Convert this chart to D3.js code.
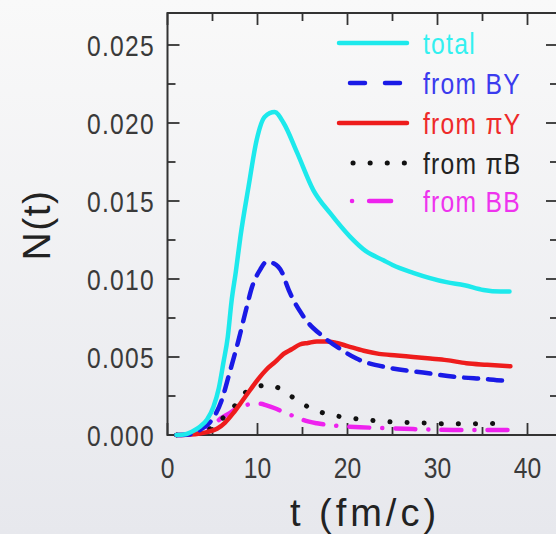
<!DOCTYPE html>
<html><head><meta charset="utf-8">
<script src="https://cdn.jsdelivr.net/npm/d3@7"></script>
<style>html,body{margin:0;padding:0;overflow:hidden;background:#f0f1f3}</style>
</head><body><svg id="c" width="556" height="534"></svg>
<script>
const tTotal = [1,2,3,3.6,4.4,5.1,5.7,6.2,6.7,7.1,7.6,8.1,9,9.9,10.8,11.9,12.9,14.4,16.2,18.1,20.3,22,24,25,27.3,31,33,35.1,37,38];
const vTotal = [0,0.00005,0.0003,0.00053,0.001,0.0018,0.003,0.0046,0.0063,0.0085,0.0105,0.0127,0.0159,0.0189,0.0204,0.0207,0.0200,0.0181,0.0157,0.0142,0.0127,0.0118,0.0112,0.0109,0.0104,0.0098,0.0096,0.0093,0.0092,0.0092];
const tBY = [1,2,2.9,3.8,4.7,5.4,6,6.9,7.9,8.8,9.4,10.3,11,11.8,12.9,13.2,15.1,17.3,19.5,21,24.7,28.4,32.5,35,37.3,38];
const vBY = [0,0.00002,0.0001,0.0004,0.0008,0.0014,0.0022,0.004,0.0061,0.0082,0.0095,0.0106,0.0111,0.0110,0.0102,0.0097,0.0076,0.0063,0.0054,0.0049,0.0043,0.0040,0.0037,0.0036,0.0035,0.0035];
const tPiY = [1,2.5,3.6,4.5,5.5,6.4,7.3,8.2,9.2,10.1,11,12,12.9,13.8,14.7,15.6,16.6,17.7,18.8,20,21.8,23.5,25.5,27.3,29.2,31,33.2,35.5,38.1];
const vPiY = [0,0.00003,0.0001,0.0002,0.0004,0.0008,0.0014,0.0021,0.0029,0.0036,0.0042,0.0047,0.0052,0.0055,0.0058,0.0059,0.0060,0.0060,0.0059,0.0057,0.0054,0.0052,0.0051,0.0050,0.0049,0.0048,0.0046,0.0045,0.0044];
const tPiB = [1,2,3,4,5,6,7.3,8.6,10,11,12,13.7,15.3,17.1,19,20.8,22.7,24.5,26.6,28.4,30.3,32,34,36,37.9];
const vPiB = [0,0.00002,0.0001,0.0002,0.0005,0.001,0.00175,0.0027,0.0031,0.0032,0.0031,0.0025,0.0019,0.00145,0.0012,0.00105,0.00094,0.00085,0.0008,0.00077,0.00073,0.00072,0.00072,0.00074,0.00075];
const tBB = [1,2.5,3.5,4.4,5.2,6,6.9,7.7,8.6,9.5,10.3,11,12,13.1,14.1,15.1,16.6,18.6,21.4,24.4,27.3,31.8,35.8,37.9];
const vBB = [0,0.00005,0.0002,0.0004,0.0007,0.0011,0.0014,0.0017,0.0019,0.0020,0.0020,0.0019,0.0017,0.0014,0.0012,0.00096,0.00075,0.0006,0.0005,0.00043,0.00038,0.00032,0.00032,0.00032];
const xTicks = [0,10,20,30,40];
const yTicks = [0,0.005,0.010,0.015,0.020,0.025];
const legendLabels = ["total","from BY","from \u03c0Y","from \u03c0B","from BB"];

const svg = d3.select("#c");
const defs = svg.append("defs");
const gr = defs.append("linearGradient").attr("id","bg").attr("x1",0).attr("y1",0).attr("x2",0).attr("y2",1);
gr.append("stop").attr("offset","0%").attr("stop-color","#f9f9f9");
gr.append("stop").attr("offset","100%").attr("stop-color","#e7e8ed");
svg.append("rect").attr("width",556).attr("height",534).attr("fill","url(#bg)");

const L = 167.5, R = 558, T = 13, B = 435;
const x = d3.scaleLinear().domain([0,40]).range([L, 527.5]);
const y = d3.scaleLinear().domain([0,0.025]).range([B, 45]);

const font = "'Liberation Sans',Arimo,Arial,sans-serif";
const axCol = "#333";

function txt(parent, px, py, s, opts) {
  const g = parent.append("g").attr("transform", `translate(${px},${py}) scale(${opts.sx||0.85},1)`);
  g.append("text").attr("x",0).attr("y",0).attr("text-anchor",opts.anchor||"start")
    .attr("font-family",font).attr("font-size",opts.size||29).attr("fill",opts.fill||"#3a3a3a")
    .attr("letter-spacing",opts.ls==null?1.5:opts.ls).text(s);
  return g;
}

const frame = svg.append("g");
frame.append("rect").attr("x",L).attr("y",T).attr("width",R-L).attr("height",B-T)
  .attr("fill","none").attr("stroke",axCol).attr("stroke-width",2);

d3.range(0, 45, 5).forEach(v => {
  const len = v % 10 === 0 ? 12 : 8;
  frame.append("line").attr("x1",x(v)).attr("x2",x(v)).attr("y1",B).attr("y2",B-len).attr("stroke",axCol).attr("stroke-width",1.8);
  frame.append("line").attr("x1",x(v)).attr("x2",x(v)).attr("y1",T).attr("y2",T+len).attr("stroke",axCol).attr("stroke-width",1.8);
});
d3.range(0, 0.0271, 0.0025).forEach((v,i) => {
  const len = i % 2 === 0 ? 12 : 8;
  frame.append("line").attr("y1",y(v)).attr("y2",y(v)).attr("x1",L).attr("x2",L+len).attr("stroke",axCol).attr("stroke-width",1.8);
  frame.append("line").attr("y1",y(v)).attr("y2",y(v)).attr("x1",R).attr("x2",R-len).attr("stroke",axCol).attr("stroke-width",1.8);
});
xTicks.forEach(d => txt(frame, x(d), 478, d, {anchor:"middle", ls:0}));
yTicks.forEach(d => txt(frame, 155, y(d)+10.5, d3.format(".3f")(d), {anchor:"end"}));

const yt = svg.append("g").attr("transform","translate(50,225) rotate(-90)");
yt.append("text").attr("text-anchor","middle").attr("font-family",font).attr("font-size",39)
  .attr("letter-spacing",1.5).attr("fill","#222").text("N(t)");
svg.append("text").attr("x",365).attr("y",526).attr("text-anchor","middle").attr("letter-spacing",4)
  .attr("font-family",font).attr("font-size",38).attr("fill","#222").text("t (fm/c)");

const line = d3.line().x(d=>x(d[0])).y(d=>y(d[1])).curve(d3.curveMonotoneX);
const series = [
  {t:tTotal, v:vTotal, color:"#1de9ec", text:"#33f0f0", dash:null, w:4.5},
  {t:tBY, v:vBY, color:"#1a1ae6", text:"#3b3bee", dash:"14,10", w:4.5},
  {t:tPiY, v:vPiY, color:"#ee1c1c", text:"#ee2a2a", dash:null, w:4.5},
  {t:tPiB, v:vPiB, color:"#111111", text:"#222", dash:"0.1,17", w:5},
  {t:tBB, v:vBB, color:"#ee22ee", text:"#ee33ee", dash:"20,13,0.1,13", w:4.5}
];
const plot = svg.append("g");
series.slice().reverse().forEach(s => {
  const pts = s.t.map((t,i)=>[t, s.v[i]]);
  plot.append("path").attr("d", line(pts)).attr("fill","none").attr("stroke",s.color)
    .attr("stroke-width",s.w).attr("stroke-linecap","round").attr("stroke-linejoin","round")
    .attr("stroke-dasharray",s.dash);
});

const leg = svg.append("g");
const legY = [43,83,123,163,201];
series.forEach((s,i) => {
  leg.append("line").attr("x1",i===3?353:339).attr("x2",407).attr("y1",legY[i]).attr("y2",legY[i])
    .attr("stroke",s.color).attr("stroke-width",s.w).attr("stroke-linecap","round")
    .attr("stroke-dasharray", i===1 ? "15,20" : (i===4 ? "0.1,17,22,17" : s.dash))
    .attr("stroke-dashoffset", i===1 ? -11 : (i===4 ? -13 : 0));
  txt(leg, 423, legY[i]+10.5, legendLabels[i], {fill:s.text});
});
</script></body></html>
